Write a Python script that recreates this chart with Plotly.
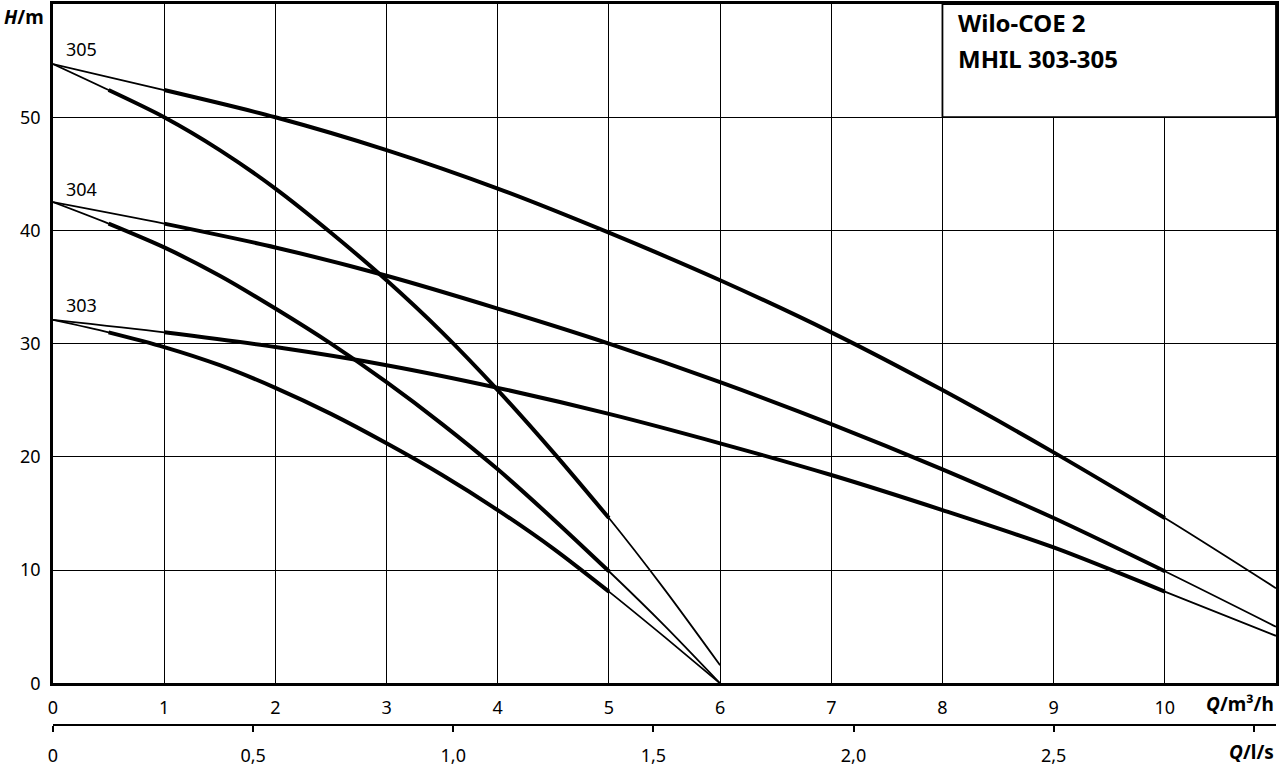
import plotly.graph_objects as go

# ---- data ----
q_single = [0, 0.5, 1, 1.5, 2, 2.5, 3, 3.5, 4, 4.5, 5, 5.5, 6]
q_parallel = [0, 1, 2, 3, 4, 5, 6, 7, 8, 9, 10, 11]

h305_single = [54.7, 52.4, 50.0, 47.1, 43.7, 39.8, 35.6, 31.0, 25.9, 20.4, 14.6, 8.3, 1.6]
h304_single = [42.5, 40.6, 38.5, 36.0, 33.1, 30.0, 26.6, 22.9, 18.9, 14.5, 9.9, 5.1, 0.0]
h303_single = [32.1, 31.0, 29.7, 28.1, 26.1, 23.8, 21.2, 18.4, 15.3, 11.9, 8.1, 4.1, 0.0]

h305_parallel = [54.7, 52.4, 50.0, 47.1, 43.7, 39.8, 35.6, 31.0, 25.9, 20.4, 14.6, 8.4]
h304_parallel = [42.5, 40.6, 38.5, 36.0, 33.1, 30.0, 26.6, 22.9, 18.9, 14.6, 9.9, 5.0]
h303_parallel = [32.1, 31.0, 29.7, 28.1, 26.1, 23.8, 21.2, 18.4, 15.3, 12.0, 8.1, 4.2]

curve_names = ["305", "304", "303"]
label_heights = [56.0, 43.7, 33.4]

q_ticks = [0, 1, 2, 3, 4, 5, 6, 7, 8, 9, 10]
h_ticks = [0, 10, 20, 30, 40, 50]
ls_ticks = [0, 0.5, 1.0, 1.5, 2.0, 2.5, 3.0]
ls_labels = ["0", "0,5", "1,0", "1,5", "2,0", "2,5", ""]

# operating (thick) ranges
single_range = (0.5, 5)
parallel_range = (1, 10)

FONT = "Noto Sans"

fig = go.Figure()

def add_curve(qs, hs, rng):
    fig.add_trace(go.Scatter(x=qs, y=hs, mode="lines",
                             line=dict(color="black", width=1.8, shape="spline", smoothing=0.8),
                             hoverinfo="skip", showlegend=False))
    sq = [q for q in qs if rng[0] <= q <= rng[1]]
    sh = [h for q, h in zip(qs, hs) if rng[0] <= q <= rng[1]]
    fig.add_trace(go.Scatter(x=sq, y=sh, mode="lines",
                             line=dict(color="black", width=4, shape="spline", smoothing=0.8),
                             hoverinfo="skip", showlegend=False))

for hs in [h305_single, h304_single, h303_single]:
    add_curve(q_single, hs, single_range)
for hs in [h305_parallel, h304_parallel, h303_parallel]:
    add_curve(q_parallel, hs, parallel_range)

# dummy trace for secondary axis
fig.add_trace(go.Scatter(x=[0], y=[0], xaxis="x2", mode="markers",
                         marker=dict(opacity=0), hoverinfo="skip", showlegend=False))

paper_h = 727.0
y_bottom_dom = (728 - 686) / paper_h

fig.update_layout(
    width=1280, height=768,
    margin=dict(l=53, r=2, t=1, b=40),
    paper_bgcolor="white", plot_bgcolor="white",
    font=dict(family=FONT, size=18, color="black"),
    hovermode=False,
    xaxis=dict(range=[0, 11], tickvals=q_ticks, showgrid=True, gridcolor="black",
               gridwidth=1, showline=True, linecolor="black", linewidth=2.5, mirror=True,
               ticks="", zeroline=False, anchor="y", ticklabelstandoff=6,
               tickfont=dict(size=18)),
    yaxis=dict(range=[0, 60], tickvals=h_ticks, showgrid=True, gridcolor="black",
               gridwidth=1, showline=True, linecolor="black", linewidth=2.5, mirror=True,
               ticks="", zeroline=False, domain=[y_bottom_dom, 1], ticklabelstandoff=6,
               tickfont=dict(size=18)),
    xaxis2=dict(range=[0, 11 / 3.6], tickvals=ls_ticks, ticktext=ls_labels,
                overlaying="x", anchor="free", position=0, side="bottom",
                showgrid=False, zeroline=False, showline=True, linecolor="black",
                linewidth=2, ticks="outside", ticklen=6, tickwidth=2, tickcolor="black",
                ticklabelstandoff=8, tickfont=dict(size=18)),
)

# title box
fig.add_shape(type="rect", xref="x", yref="y", x0=8, x1=11, y0=50, y1=60,
              fillcolor="white", line=dict(color="black", width=1.8), layer="above")
fig.add_annotation(xref="x", yref="y", x=8.12, y=58.35, text="<b>Wilo-COE 2</b>",
                   showarrow=False, xanchor="left", yanchor="middle",
                   font=dict(size=24, family=FONT))
fig.add_annotation(xref="x", yref="y", x=8.12, y=55.15, text="<b>MHIL 303-305</b>",
                   showarrow=False, xanchor="left", yanchor="middle",
                   font=dict(size=24, family=FONT))

# curve labels
for name, hy in zip(curve_names, label_heights):
    fig.add_annotation(xref="x", yref="y", x=0.1, y=hy, text=name, showarrow=False,
                       xanchor="left", yanchor="middle", font=dict(size=18, family=FONT))

# axis titles
fig.add_annotation(xref="paper", yref="paper", x=-51 / 1225, y=1 - 13 / paper_h,
                   text="<b><i>H</i>/m</b>", showarrow=False, xanchor="left",
                   yanchor="middle", font=dict(size=19, family=FONT))
fig.add_annotation(xref="paper", yref="paper", x=1, y=1 - 706 / paper_h,
                   text="<b><i>Q</i>/m³/h</b>", showarrow=False, xanchor="right",
                   yanchor="middle", font=dict(size=19, family=FONT))
fig.add_annotation(xref="paper", yref="paper", x=1, y=1 - 754 / paper_h,
                   text="<b><i>Q</i>/l/s</b>", showarrow=False, xanchor="right",
                   yanchor="middle", font=dict(size=19, family=FONT))

fig.write_html("out.html", config={"displayModeBar": False},
               post_script="document.body.style.margin='0';document.body.style.overflow='hidden';")
